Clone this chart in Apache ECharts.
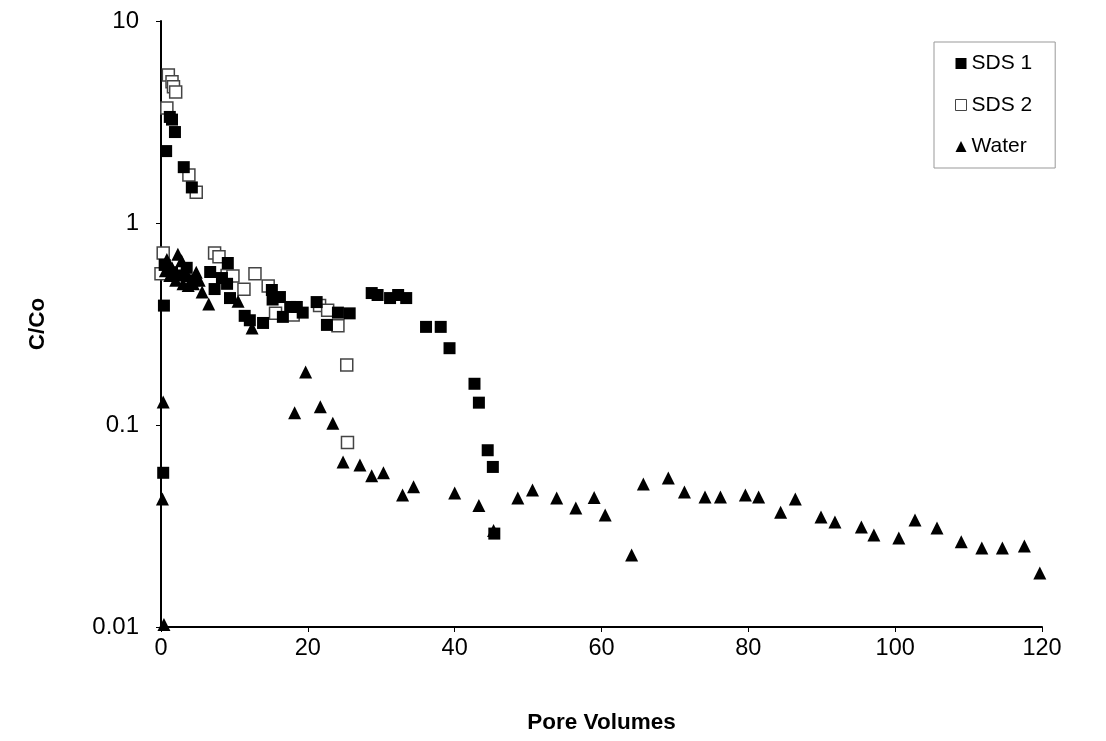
<!DOCTYPE html>
<html>
<head>
<meta charset="utf-8">
<script src="https://cdn.jsdelivr.net/npm/echarts@6/dist/echarts.min.js"></script>
<style>
html,body{margin:0;padding:0;background:#fff;}
#chart{width:1106px;height:741px;}
</style>
</head>
<body>
<div id="chart"></div>
<script>
// ---- data ----
const sds1X = [0.3, 0.4, 0.7, 1.2, 1.5, 1.9, 3.1, 4.2, 0.5, 1.5, 2.5, 3.5, 4.5,
  6.7, 7.3, 8.3, 9.0, 9.1, 9.4, 11.4, 12.1, 13.9, 15.1, 15.2, 16.2, 16.6, 17.6, 18.5, 19.3,
  21.2, 22.6, 24.1, 25.7, 28.7, 29.5, 31.2, 32.3, 33.4, 36.1, 38.1, 39.3, 42.7, 43.3, 44.5, 45.2, 45.4];
const sds1Y = [0.058, 0.39, 2.27, 3.35, 3.25, 2.82, 1.89, 1.50, 0.62, 0.57, 0.55, 0.60, 0.52,
  0.572, 0.471, 0.534, 0.50, 0.634, 0.425, 0.347, 0.33, 0.32, 0.466, 0.418, 0.43, 0.343, 0.384, 0.384, 0.36,
  0.406, 0.313, 0.36, 0.357, 0.45, 0.44, 0.425, 0.44, 0.425, 0.306, 0.306, 0.24, 0.16, 0.129, 0.075, 0.062, 0.029];

const sds2X = [0.0, 0.3, 0.8, 1.0, 1.5, 1.7, 2.0, 3.8, 4.8, 7.3, 7.9, 9.0, 9.8, 11.3, 12.8, 14.6,
  15.6, 18.0, 21.6, 22.7, 24.1, 25.3, 25.4];
const sds2Y = [0.56, 0.71, 3.71, 5.4, 5.0, 4.72, 4.45, 1.73, 1.42, 0.71, 0.68, 0.55, 0.547, 0.47, 0.56, 0.487,
  0.357, 0.35, 0.39, 0.37, 0.31, 0.198, 0.082];

const waterX = [0.3, 0.2, 0.4, 0.8, 1.5, 2.3, 2.8, 3.2, 3.6, 1.2, 2.0, 3.0, 3.7, 4.4, 4.8, 5.2, 0.6,
  5.6, 6.5, 10.5, 12.4, 18.2, 19.7, 21.7, 23.4, 24.8, 27.1, 28.7, 30.3, 32.9, 34.4, 40.0, 43.3, 45.3,
  48.6, 50.6, 53.9, 56.5, 59.0, 60.5, 64.1, 65.7, 69.1, 71.3, 74.1, 76.2, 79.6, 81.4, 84.4, 86.4,
  89.9, 91.8, 95.4, 97.1, 100.5, 102.7, 105.7, 109.0, 111.8, 114.6, 117.6, 119.7];
const waterY = [0.13, 0.043, 0.0103, 0.66, 0.60, 0.70, 0.65, 0.58, 0.55, 0.55, 0.52, 0.50, 0.49, 0.50, 0.57, 0.52, 0.58,
  0.455, 0.397, 0.41, 0.302, 0.115, 0.183, 0.123, 0.102, 0.0656, 0.0634, 0.056, 0.058, 0.045, 0.0494, 0.046, 0.040, 0.030,
  0.0435, 0.0477, 0.0435, 0.0388, 0.0438, 0.0358, 0.0227, 0.051, 0.0547, 0.0466, 0.044, 0.044, 0.045, 0.044, 0.037, 0.043,
  0.035, 0.0331, 0.0313, 0.0285, 0.0276, 0.0339, 0.0309, 0.0264, 0.0246, 0.0246, 0.0252, 0.0185];

const seriesNames = ['SDS 1', 'SDS 2', 'Water'];
const yTickLabels = {0.01: '0.01', 0.1: '0.1', 1: '1', 10: '10'};
const xTitle = 'Pore Volumes';
const yTitle = 'C/Co';

function pairs(xs, ys) { return xs.map((x, i) => [x, ys[i]]); }

const font = '"Liberation Sans", Arial, sans-serif';
const chart = echarts.init(document.getElementById('chart'), null, {renderer: 'canvas'});
chart.setOption({
  animation: false,
  backgroundColor: '#fff',
  grid: {left: 161, top: 21, right: 64, bottom: 114, containLabel: false},
  xAxis: {
    type: 'value', min: 0, max: 120, interval: 20,
    name: xTitle, nameLocation: 'middle', nameGap: 84,
    nameTextStyle: {fontFamily: font, fontSize: 22.5, fontWeight: 'bold', color: '#000'},
    axisLine: {show: true, onZero: false, lineStyle: {color: '#000', width: 2}},
    axisTick: {show: true, length: 5, lineStyle: {color: '#000', width: 1}},
    axisLabel: {fontFamily: font, fontSize: 23.5, color: '#000', margin: 10},
    splitLine: {show: false}
  },
  yAxis: {
    type: 'log', logBase: 10, min: 0.01, max: 10,
    name: yTitle, nameLocation: 'middle', nameGap: 112, nameRotate: 90,
    nameTextStyle: {fontFamily: font, fontSize: 22.5, fontWeight: 'bold', color: '#000'},
    axisLine: {show: true, lineStyle: {color: '#000', width: 2}},
    axisTick: {show: true, length: 5, lineStyle: {color: '#000', width: 1}},
    axisLabel: {fontFamily: font, fontSize: 24, color: '#000', margin: 22,
      formatter: v => yTickLabels[v] !== undefined ? yTickLabels[v] : String(v)},
    splitLine: {show: false},
    minorTick: {show: false}
  },
  legend: {
    orient: 'vertical', left: 934, top: 42,
    padding: [11, 23, 11, 21],
    itemGap: 20.5, itemWidth: 11, itemHeight: 11,
    borderColor: '#999', borderWidth: 1,
    textStyle: {fontFamily: font, fontSize: 21, color: '#000', padding: [0, 0, 0, 0]},
    data: [
      {name: 'SDS 1', icon: 'rect', itemStyle: {color: '#000', opacity: 1}},
      {name: 'SDS 2', icon: 'rect', itemStyle: {color: '#fff', borderColor: '#444', borderWidth: 1, opacity: 1}},
      {name: 'Water', icon: 'triangle', itemStyle: {color: '#000', opacity: 1}}
    ]
  },
  series: [
    {name: 'SDS 2', type: 'scatter', symbol: 'rect', symbolSize: 12, z: 2,
     itemStyle: {color: '#fff', borderColor: '#444', borderWidth: 1.5, opacity: 1},
     emphasis: {disabled: true},
     data: pairs(sds2X, sds2Y)},
    {name: 'SDS 1', type: 'scatter', symbol: 'rect', symbolSize: 12, z: 3,
     itemStyle: {color: '#000', opacity: 1},
     emphasis: {disabled: true},
     data: pairs(sds1X, sds1Y)},
    {name: 'Water', type: 'scatter', symbol: 'triangle', symbolSize: 13, z: 4,
     itemStyle: {color: '#000', opacity: 1},
     emphasis: {disabled: true},
     data: pairs(waterX, waterY)}
  ]
});
</script>
</body>
</html>
